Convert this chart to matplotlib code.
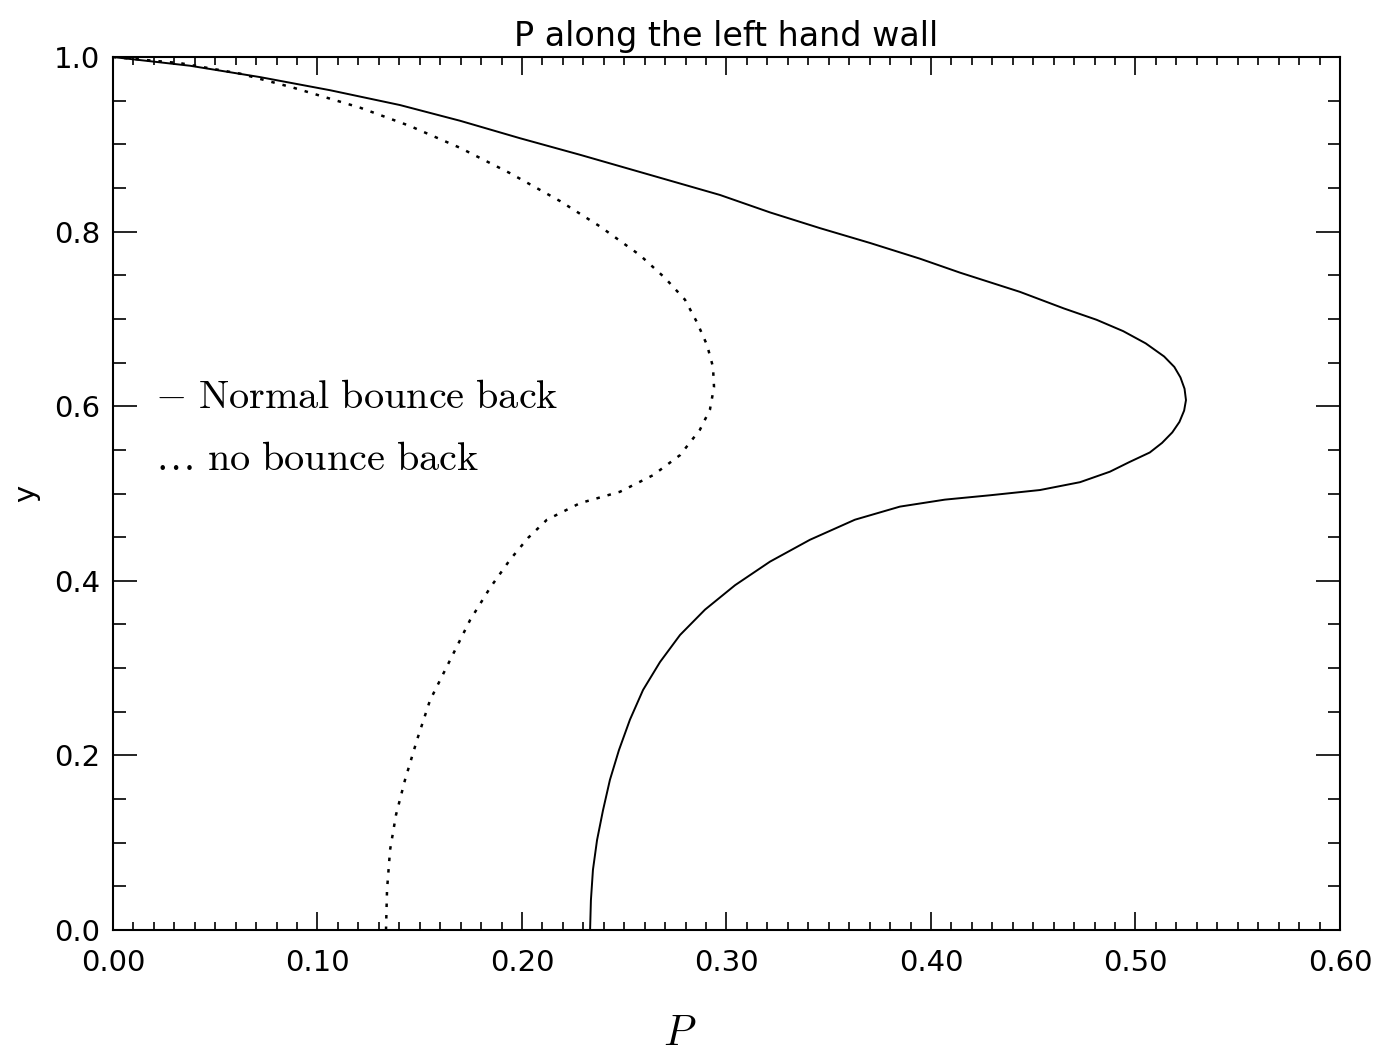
import numpy as np
import matplotlib.pyplot as plt
from matplotlib.ticker import MultipleLocator, FormatStrFormatter


# P along the left hand wall, normal bounce back (solid line)
p_bounce = [0.2333, 0.2337, 0.2347, 0.2367, 0.2396, 0.2430, 0.2474, 0.2528,
            0.2592, 0.2675, 0.2773, 0.2895, 0.3042, 0.3213, 0.3408, 0.3628,
            0.3848, 0.4068, 0.4289, 0.4533, 0.4729, 0.4875, 0.4970, 0.5070,
            0.5130, 0.5180, 0.5215, 0.5238, 0.5247, 0.5240, 0.5220, 0.5190,
            0.5140, 0.5050, 0.4940, 0.4810, 0.4650, 0.4435, 0.4142, 0.3946,
            0.3702, 0.3457, 0.3213, 0.2968, 0.2626, 0.2284, 0.1990, 0.1697,
            0.1403, 0.1061, 0.0719, 0.0377, 0.0000]
y_bounce = [0.000, 0.034, 0.069, 0.103, 0.137, 0.172, 0.206, 0.241,
            0.275, 0.307, 0.338, 0.367, 0.395, 0.422, 0.447, 0.470,
            0.485, 0.493, 0.498, 0.504, 0.513, 0.525, 0.536, 0.547,
            0.558, 0.570, 0.582, 0.595, 0.607, 0.620, 0.633, 0.645,
            0.657, 0.672, 0.686, 0.699, 0.712, 0.731, 0.753, 0.769,
            0.787, 0.804, 0.822, 0.842, 0.865, 0.888, 0.907, 0.927,
            0.945, 0.962, 0.977, 0.990, 1.000]

# P along the left hand wall, no bounce back (dotted line)
p_nobounce = [0.1335, 0.1340, 0.1355, 0.1384, 0.1428, 0.1487, 0.1550, 0.1648,
              0.1746, 0.1844, 0.1941, 0.2029, 0.2122, 0.2284, 0.2479, 0.2641,
              0.2773, 0.2870, 0.2919, 0.2939, 0.2934, 0.2905, 0.2856, 0.2797,
              0.2699, 0.2577, 0.2381, 0.2186, 0.1941, 0.1697, 0.1452, 0.1208,
              0.0880, 0.0621, 0.0328, 0.0000]
y_nobounce = [0.000, 0.046, 0.092, 0.132, 0.172, 0.218, 0.263, 0.309,
              0.355, 0.392, 0.424, 0.449, 0.470, 0.489, 0.502, 0.521,
              0.544, 0.573, 0.596, 0.622, 0.645, 0.670, 0.696, 0.722,
              0.747, 0.773, 0.806, 0.835, 0.867, 0.896, 0.921, 0.942,
              0.965, 0.981, 0.993, 1.000]

x_ticks = [0.0, 0.1, 0.2, 0.3, 0.4, 0.5, 0.6]
y_ticks = [0.0, 0.2, 0.4, 0.6, 0.8, 1.0]

plt.rcParams["mathtext.fontset"] = "cm"
sans = ["DejaVu Sans"]

fig = plt.figure(figsize=(13.9, 10.56), dpi=100)
ax = fig.add_axes([0.0813, 0.1193, 0.8827, 0.8267])

ax.plot(p_bounce, y_bounce, color="black", lw=1.4)
ax.plot(p_nobounce, y_nobounce, color="black", lw=1.8, linestyle=(0, (1.4, 3.2)))

ax.set_xlim(0.0, 0.6)
ax.set_ylim(0.0, 1.0)
ax.set_xticks(x_ticks)
ax.set_yticks(y_ticks)
ax.xaxis.set_minor_locator(MultipleLocator(0.01))
ax.yaxis.set_minor_locator(MultipleLocator(0.05))
ax.xaxis.set_major_formatter(FormatStrFormatter("%.2f"))
ax.yaxis.set_major_formatter(FormatStrFormatter("%.1f"))

ax.tick_params(which="both", direction="in", top=True, right=True, width=1.2,
               colors="black")
ax.tick_params(axis="x", which="major", length=13, pad=14)
ax.tick_params(axis="x", which="minor", length=6)
ax.tick_params(axis="y", which="major", length=17, pad=9)
ax.tick_params(axis="y", which="minor", length=9)
for lbl in ax.get_xticklabels() + ax.get_yticklabels():
    lbl.set_family(sans)
    lbl.set_fontsize(21)
for spine in ax.spines.values():
    spine.set_linewidth(1.5)

ax.set_title("P along the left hand wall", family=sans, fontsize=24, pad=8)
ax.set_ylabel("y", family=sans, fontsize=21)
ax.yaxis.set_label_coords(-0.059, 0.5)
ax.set_xlabel(r"$P$", fontsize=30, va="center")
ax.xaxis.set_label_coords(0.462, -0.118)

# curve labels written inside the frame
ax.text(0.0205, 0.598, r"$-\ \mathrm{Normal\ bounce\ back}$", fontsize=29,
        va="baseline")
ax.text(0.0205, 0.527, r"$\ldots\ \mathrm{no\ bounce\ back}$", fontsize=29,
        va="baseline")

plt.savefig("out.png", dpi=100)
